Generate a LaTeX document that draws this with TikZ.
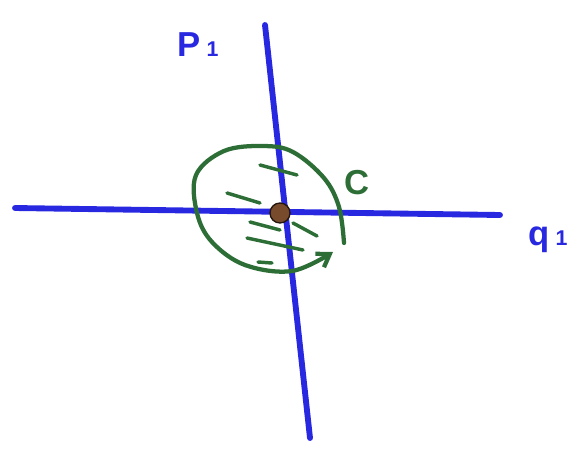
\documentclass[tikz,border=0pt]{standalone}
\usepackage{fontspec}
\setmainfont{Liberation Sans}
\usetikzlibrary{arrows.meta}

\definecolor{penblue}{RGB}{40,40,225}
\definecolor{pengreen}{RGB}{45,110,55}
\definecolor{penbrown}{RGB}{120,75,45}

\tikzset{
  axis/.style={penblue, line width=4.4pt, line cap=round},
  loopline/.style={pengreen, line width=3.2pt, line cap=round, line join=round},
  hatch/.style={pengreen, line width=2.6pt, line cap=round},
  lbl/.style={font=\bfseries\fontsize{26}{30}\selectfont},
}

\begin{document}
\begin{tikzpicture}[x=0.75pt, y=-0.75pt]
  \useasboundingbox (0,0) rectangle (581,454);

  % axes
  \coordinate (qw) at (15,208);
  \coordinate (qe) at (500,215);
  \coordinate (pn) at (265,25);
  \coordinate (ps) at (310,438);
  \draw[axis] (qw) -- (qe);
  \draw[axis] (pn) -- (ps);

  % labels
  \node[lbl, text=penblue] (plbl) at (198,45) {P\,{\fontsize{16}{18}\selectfont 1}};
  \node[lbl, text=penblue] (qlbl) at (548,240) {q\,{\fontsize{16}{18}\selectfont 1}};
  \node[lbl, text=pengreen] (clbl) at (357,183) {C};

  % green loop round c
  \draw[loopline, -{Straight Barb[length=9pt, width=12pt]}]
    plot[smooth, tension=0.6] coordinates {
      (344,243) (339,207) (324,178) (293,152) (263,146) (224,151)
      (196,175) (197,213) (212,242) (245,265) (292,271) (333,252)};

  % hatching
  \draw[hatch] (260,165) -- (297,175);
  \draw[hatch] (227,193) -- (260,203);
  \draw[hatch] (250,222) -- (280,230);
  \draw[hatch] (293,223) -- (317,236);
  \draw[hatch] (247,238) -- (303,250);
  \draw[hatch] (258,262) -- (272,263);

  % point c
  \node[circle, draw=black!70!penbrown, fill=penbrown, line width=1pt,
        minimum size=15pt, inner sep=0pt] (c) at (280,213) {};
\end{tikzpicture}
\end{document}
